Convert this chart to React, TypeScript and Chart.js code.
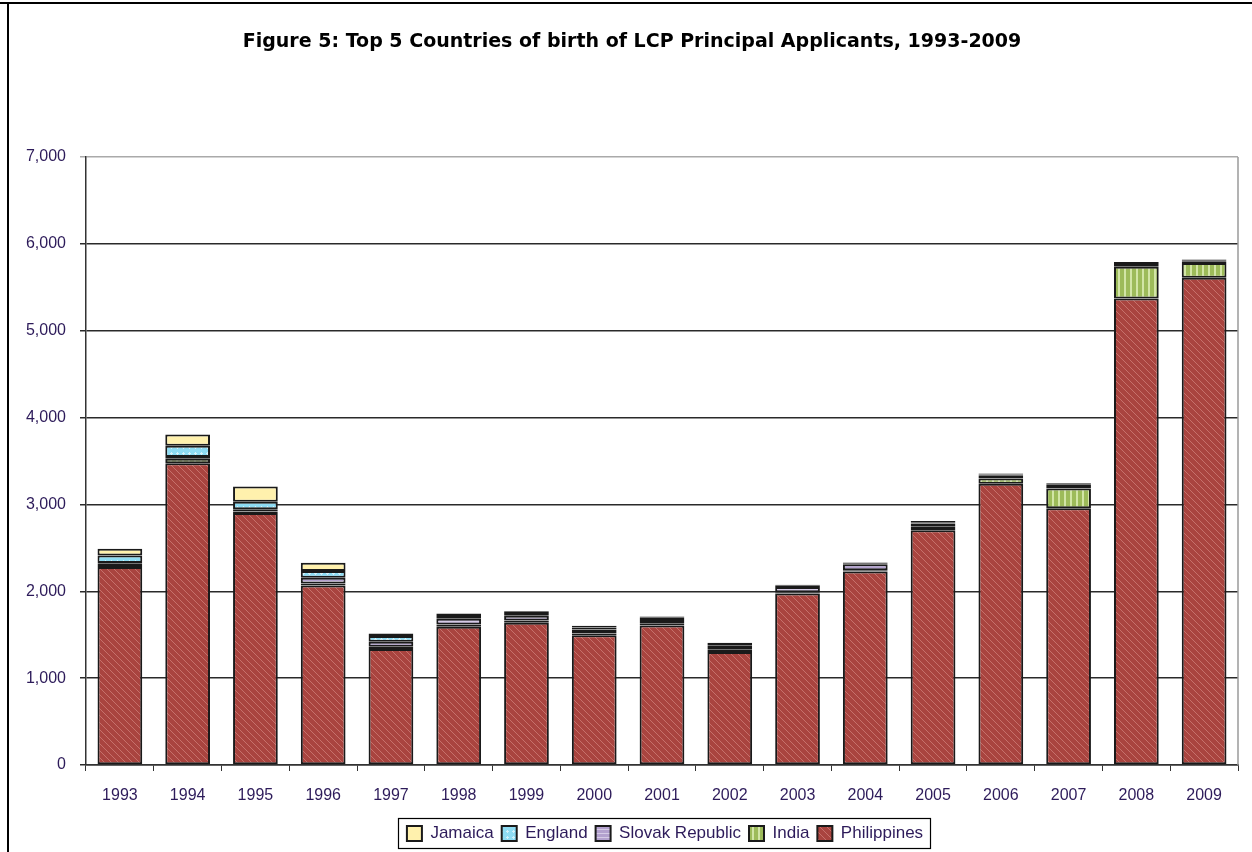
import React, { useEffect, useRef } from "react";
import { Chart, registerables } from "chart.js";

Chart.register(...registerables);

const TITLE = "Figure 5: Top 5 Countries of birth of LCP Principal Applicants, 1993-2009";
const years = ["1993","1994","1995","1996","1997","1998","1999","2000","2001","2002","2003","2004","2005","2006","2007","2008","2009"];
const philippines = [2281, 3475, 2900, 2066, 1336, 1593, 1639, 1494, 1605, 1302, 1974, 2227, 2704, 3237, 2957, 5372, 5611];
const india = [35, 50, 20, 25, 25, 25, 25, 20, 20, 25, 15, 15, 45, 61, 226, 365, 169];
const slovak = [10, 20, 25, 65, 58, 65, 55, 45, 45, 45, 60, 70, 30, 38, 40, 30, 20];
const england = [85, 130, 85, 77, 65, 45, 45, 25, 25, 20, 15, 10, 15, 10, 10, 12, 10];
const jamaica = [80, 130, 175, 95, 30, 15, 10, 20, 15, 15, 10, 10, 15, 10, 10, 12, 10];
const yTicksMax = 7000;
const yStep = 1000;

const TEXT = "#2d1b5a";

function tile(size: number, draw: (g: CanvasRenderingContext2D) => void) {
  const c = document.createElement("canvas");
  c.width = size;
  c.height = size;
  const g = c.getContext("2d")!;
  draw(g);
  const ctx = document.createElement("canvas").getContext("2d")!;
  return ctx.createPattern(c, "repeat")!;
}

function makePatterns() {
  const phil = tile(7, (g) => {
    g.fillStyle = "#A9443F";
    g.fillRect(0, 0, 7, 7);
    g.fillStyle = "#C6716B";
    for (let i = 0; i < 7; i++) g.fillRect(i, i, 1, 1);
  });
  const ind = tile(6, (g) => {
    g.fillStyle = "#9DBB5A";
    g.fillRect(0, 0, 6, 6);
    g.fillStyle = "#D2E5A6";
    g.fillRect(2, 0, 2, 6);
  });
  const slo = tile(4, (g) => {
    g.fillStyle = "#B3A1CE";
    g.fillRect(0, 0, 4, 4);
    g.fillStyle = "#D6CBE7";
    g.fillRect(0, 1, 4, 1);
  });
  const eng = tile(6, (g) => {
    g.fillStyle = "#8EDCF3";
    g.fillRect(0, 0, 6, 6);
    g.fillStyle = "#D3F2FB";
    g.fillRect(2, 3, 3, 1);
    g.fillRect(3, 2, 1, 3);
  });
  const jam = "#FFF1AD";
  return { phil, ind, slo, eng, jam };
}

const LEGEND_SHIFT = 42;
const TITLE_SHIFT = 9;

const framePlugin = {
  id: "frameDeco",
  afterLayout(chart: any) {
    const lg = chart.legend;
    if (lg) {
      lg.left += LEGEND_SHIFT;
      lg.right += LEGEND_SHIFT;
      for (const h of lg.legendHitBoxes || []) h.left += LEGEND_SHIFT;
    }
    const tb = chart.titleBlock;
    if (tb) {
      tb.left += TITLE_SHIFT;
      tb.right += TITLE_SHIFT;
    }
  },
  afterDraw(chart: any) {
    const ctx = chart.ctx as CanvasRenderingContext2D;
    const { right, top, bottom } = chart.chartArea;
    ctx.save();
    // outer frame
    ctx.strokeStyle = "#000";
    ctx.lineWidth = 2;
    ctx.beginPath();
    ctx.moveTo(0, 3);
    ctx.lineTo(chart.width, 3);
    ctx.moveTo(8, 3);
    ctx.lineTo(8, chart.height);
    ctx.stroke();
    // plot right border
    ctx.strokeStyle = "#9a9a9a";
    ctx.lineWidth = 1.5;
    ctx.beginPath();
    ctx.moveTo(right, top);
    ctx.lineTo(right, bottom);
    ctx.stroke();
    // legend box
    const boxes = chart.legend?.legendHitBoxes || [];
    if (boxes.length) {
      let l = Infinity, r = -Infinity, t = Infinity, b = -Infinity;
      for (const h of boxes) {
        l = Math.min(l, h.left);
        r = Math.max(r, h.left + h.width);
        t = Math.min(t, h.top);
        b = Math.max(b, h.top + h.height);
      }
      ctx.strokeStyle = "#000";
      ctx.lineWidth = 1.2;
      ctx.strokeRect(Math.round(l - 9) + 0.5, Math.round(t - 7) + 0.5, Math.round(r - l + 16), Math.round(b - t + 13));
    }
    ctx.restore();
  },
};

export default function App() {
  const ref = useRef<HTMLCanvasElement>(null);
  useEffect(() => {
    const p = makePatterns();
    const border = "#1a1a1a";
    const mk = (label: string, data: number[], bg: any) => ({
      label,
      data,
      backgroundColor: bg,
      borderColor: border,
      borderWidth: 2,
      borderSkipped: false as const,
      categoryPercentage: 1,
      barPercentage: 0.66,
    });
    const chart = new Chart(ref.current!, {
      type: "bar",
      data: {
        labels: years,
        datasets: [
          mk("Philippines", philippines, p.phil),
          mk("India", india, p.ind),
          mk("Slovak Republic", slovak, p.slo),
          mk("England", england, p.eng),
          mk("Jamaica", jamaica, p.jam),
        ],
      },
      options: {
        animation: false,
        responsive: false,
        layout: { padding: { left: 8, right: 14, top: 0, bottom: 0 } },
        plugins: {
          tooltip: { enabled: false },
          title: {
            display: true,
            text: TITLE,
            color: "#000",
            font: { family: "'DejaVu Sans', sans-serif", weight: "bold", size: 19 },
            padding: { top: 30.6, bottom: 103.6 },
          },
          legend: {
            position: "bottom",
            reverse: true,
            labels: {
              boxWidth: 15,
              boxHeight: 15,
              padding: 8,
              color: TEXT,
              font: { family: "'Liberation Sans', Arial, sans-serif", size: 17 },
            },
          },
        },
        scales: {
          x: {
            stacked: true,
            grid: { drawOnChartArea: false, drawTicks: true, tickLength: 6, offset: true, color: "#333" },
            border: { display: true, color: "#333", width: 1.5 },
            ticks: {
              color: TEXT,
              padding: 15,
              maxRotation: 0,
              font: { family: "'Liberation Sans', Arial, sans-serif", size: 16 },
            },
            afterFit: (s: any) => {
              s.height = 52;
            },
          },
          y: {
            stacked: true,
            min: 0,
            max: yTicksMax,
            ticks: {
              stepSize: yStep,
              color: TEXT,
              padding: 14,
              font: { family: "'Liberation Sans', Arial, sans-serif", size: 16 },
            },
            grid: {
              color: (c: any) => (c.tick && c.tick.value === yTicksMax ? "#aaaaaa" : "#2a2a2a"),
              lineWidth: 1.5,
              tickLength: 6,
              drawTicks: true,
            },
            border: { display: true, color: "#333", width: 1.5 },
            afterFit: (s: any) => {
              s.width = 78;
            },
          },
        },
      },
      plugins: [framePlugin],
    });
    return () => chart.destroy();
  }, []);
  return (
    <div style={{ position: "fixed", left: 0, top: 0, width: 1252, height: 852, background: "#fff" }}>
      <canvas ref={ref} width={1252} height={852} />
    </div>
  );
}
